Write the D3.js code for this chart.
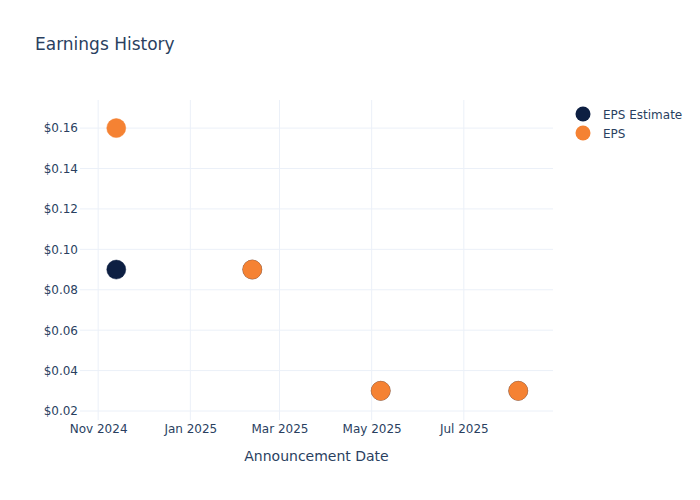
<!DOCTYPE html>
<html>
<head>
<meta charset="utf-8">
<script src="https://cdn.jsdelivr.net/npm/d3@7"></script>
<style>
html,body{margin:0;padding:0;background:#fff;}
svg{display:block;font-family:"DejaVu Sans",Verdana,sans-serif;}
</style>
</head>
<body>
<svg id="chart" width="700" height="500"></svg>
<script>
const dates = ["2024-11-13","2025-02-11","2025-05-07","2025-08-06"];
const epsEstimate = [0.09, 0.09, 0.03, 0.03];
const epsActual = [0.16, 0.09, 0.03, 0.03];
const seriesNames = ["EPS Estimate", "EPS"];
const seriesColors = ["#0d1f42", "#f58233"];
const xTicks = ["2024-11-01","2025-01-01","2025-03-01","2025-05-01","2025-07-01"];
const yTicks = [0.02,0.04,0.06,0.08,0.10,0.12,0.14,0.16];
const xDomain = ["2024-10-20","2025-08-29"];
const yDomain = [0.01555, 0.1739];

const parse = d3.utcParse("%Y-%m-%d");
const svg = d3.select("#chart");
const m = {l:80, r:147, t:100, b:80};
const W = 700, H = 500;

const x = d3.scaleUtc().domain(xDomain.map(parse)).range([m.l, W - m.r]);
const y = d3.scaleLinear().domain(yDomain).range([H - m.b, m.t]);

const textColor = "#2a3f5f";
const gridColor = "#ebf0f8";

// grid
const g = svg.append("g");
g.selectAll(".yg").data(yTicks).join("line")
  .attr("x1", m.l).attr("x2", W - m.r)
  .attr("y1", d => y(d)).attr("y2", d => y(d))
  .attr("stroke", gridColor).attr("stroke-width", 1);
g.selectAll(".xg").data(xTicks).join("line")
  .attr("x1", d => x(parse(d))).attr("x2", d => x(parse(d)))
  .attr("y1", m.t).attr("y2", H - m.b)
  .attr("stroke", gridColor).attr("stroke-width", 1);

// axes
const fmtX = d3.utcFormat("%b %Y");
const xAxis = d3.axisBottom(x).tickValues(xTicks.map(parse)).tickFormat(fmtX).tickSize(0).tickPadding(4);
const xg = svg.append("g").attr("transform", `translate(0,${H - m.b})`).call(xAxis);
xg.select(".domain").remove();
xg.selectAll("text").attr("fill", textColor).style("font-size", "12px").style("font-family", '"DejaVu Sans",Verdana,sans-serif');

const yAxis = d3.axisLeft(y).tickValues(yTicks).tickFormat(d => "$" + d.toFixed(2)).tickSize(0).tickPadding(2);
const yg = svg.append("g").attr("transform", `translate(${m.l},0)`).call(yAxis);
yg.select(".domain").remove();
yg.selectAll("text").attr("fill", textColor).style("font-size", "12px").style("font-family", '"DejaVu Sans",Verdana,sans-serif');

// axis title
svg.append("text").attr("x", (m.l + W - m.r) / 2).attr("y", 461)
  .attr("text-anchor", "middle").attr("fill", textColor).style("font-size", "14px")
  .text("Announcement Date");

// title
svg.append("text").attr("x", 35).attr("y", 50)
  .attr("fill", textColor).style("font-size", "17px")
  .text("Earnings History");

// points
const allSeries = [epsEstimate, epsActual];
allSeries.forEach((vals, si) => {
  svg.append("g").selectAll("circle").data(vals).join("circle")
    .attr("cx", (d, i) => x(parse(dates[i])))
    .attr("cy", d => y(d))
    .attr("r", 9.5)
    .attr("fill", seriesColors[si])
    .attr("stroke", seriesColors[si])
    .attr("stroke-width", 0.5);
});

// legend
const lg = svg.append("g");
seriesNames.forEach((name, i) => {
  const ly = 114 + i * 19;
  lg.append("circle").attr("cx", 583).attr("cy", ly).attr("r", 7.5).attr("fill", seriesColors[i]);
  lg.append("text").attr("x", 603).attr("y", ly + 4.5).attr("fill", textColor)
    .style("font-size", "12px").text(name);
});
</script>
</body>
</html>
